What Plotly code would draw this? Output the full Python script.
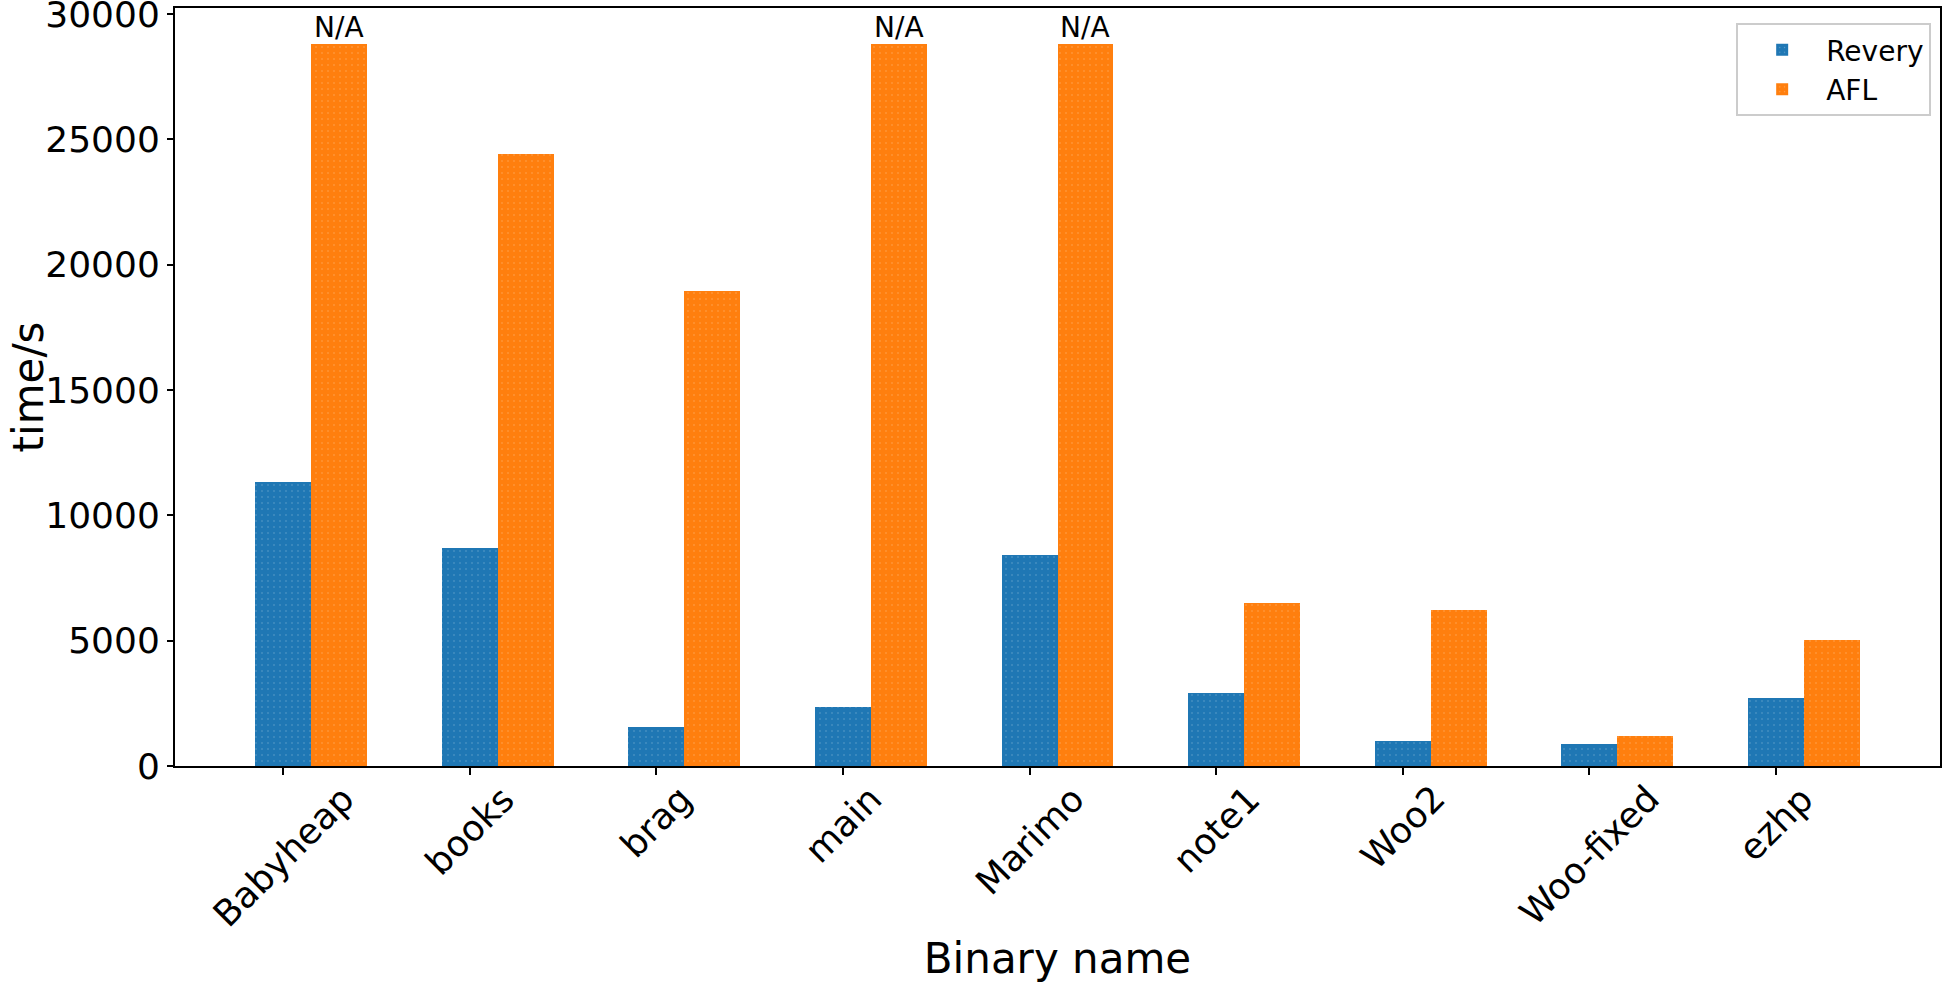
import numpy as np
import plotly.graph_objects as go

# ---- data ----
categories = ["Babyheap", "books", "brag", "main", "Marimo", "note1", "Woo2", "Woo-fixed", "ezhp"]
revery = [11350, 8700, 1550, 2350, 8400, 2900, 1000, 870, 2720]
afl = [28800, 24400, 18950, 28800, 28800, 6520, 6230, 1210, 5010]
afl_na = [True, False, False, True, True, False, False, False, False]
y_ticks = [0, 5000, 10000, 15000, 20000, 25000, 30000]

BLUE = "#1f77b4"
ORANGE = "#ff7f0e"
W = 0.3
FONT = "DejaVu Sans"
LEFT = 175

idx = np.arange(len(categories))

fig = go.Figure()
pattern = dict(shape=".", fgcolor="rgba(255,255,255,0.55)", size=6, solidity=0.06)
fig.add_trace(go.Bar(x=idx, y=revery, width=W, name="Revery",
                     marker=dict(color=BLUE, line=dict(width=0), pattern=pattern)))
fig.add_trace(go.Bar(x=idx + W, y=afl, width=W, name="AFL",
                     marker=dict(color=ORANGE, line=dict(width=0), pattern=pattern)))

# N/A labels on top of capped AFL bars
for i, na in enumerate(afl_na):
    if na:
        fig.add_annotation(x=idx[i] + W, y=afl[i], text="N/A", showarrow=False,
                           xanchor="center", yanchor="bottom", yshift=-2,
                           font=dict(family=FONT, size=28, color="black"))

# rotated category labels (center aligned like matplotlib)
for i, name in enumerate(categories):
    fig.add_annotation(x=idx[i], y=0, xref="x", yref="paper", text=name,
                       showarrow=False, textangle=-45, xanchor="center", yanchor="top",
                       yshift=-9, font=dict(family=FONT, size=36, color="black"))

# y axis title
fig.add_annotation(x=0, y=0.5, xref="paper", yref="paper", text="time/s",
                   showarrow=False, textangle=-90, xanchor="left", yanchor="middle",
                   xshift=-LEFT + 1, font=dict(family=FONT, size=42, color="black"))

lo = -W / 2
hi = (len(categories) - 1) + 1.5 * W
pad = 0.05 * (hi - lo)
ymax = max(afl) * 1.05

fig.update_layout(
    width=1946, height=983,
    margin=dict(l=LEFT, r=6, t=8, b=217, autoexpand=False),
    paper_bgcolor="white", plot_bgcolor="white",
    barmode="overlay", bargap=0,
    font=dict(family=FONT, size=36, color="black"),
    showlegend=True,
    legend=dict(x=0.995, xanchor="right", y=0.98, yanchor="top",
                bgcolor="white", bordercolor="#cccccc", borderwidth=2,
                itemwidth=78,
                font=dict(family=FONT, size=28, color="black")),
    xaxis=dict(range=[lo - pad, hi + pad], tickvals=list(idx), showticklabels=False,
               automargin=False,
               ticks="outside", ticklen=7, tickwidth=2, tickcolor="black",
               showline=True, linecolor="black", linewidth=2, mirror=True,
               showgrid=False, zeroline=False,
               title=dict(text="Binary name", font=dict(family=FONT, size=42), standoff=170)),
    yaxis=dict(range=[0, ymax], tickvals=y_ticks, ticktext=[str(v) for v in y_ticks],
               automargin=False, ticklabeloverflow="allow",
               ticks="outside", ticklen=6, tickwidth=2, tickcolor="black",
               tickfont=dict(family=FONT, size=36),
               showline=True, linecolor="black", linewidth=2, mirror=True,
               showgrid=False, zeroline=False),
)

fig.write_html("out.html", config={"displayModeBar": False},
               post_script="document.body.style.margin='0px';")
